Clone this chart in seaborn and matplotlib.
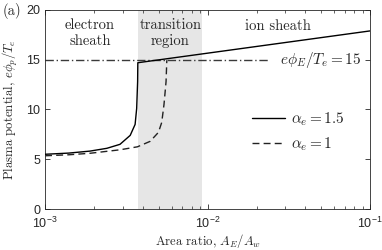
import numpy as np
import pandas as pd
import seaborn as sns
import matplotlib.pyplot as plt

# curve for alpha_e = 1.5 (solid)
x_solid = [1e-3, 1.4e-3, 1.89e-3, 2.4e-3, 2.89e-3, 3.34e-3, 3.58e-3, 3.66e-3, 3.71e-3, 3.72e-3, 0.1]
y_solid = [5.5, 5.62, 5.82, 6.1, 6.5, 7.4, 8.5, 10.1, 12.8, 14.7, 17.9]

# curve for alpha_e = 1 (dashed)
x_dash = [1e-3, 1.4e-3, 1.89e-3, 2.89e-3, 3.7e-3, 4.43e-3, 4.98e-3, 5.22e-3, 5.39e-3, 5.55e-3, 5.61e-3]
y_dash = [5.35, 5.45, 5.6, 5.95, 6.25, 6.8, 7.7, 8.7, 10.5, 12.8, 14.95]

transition = [3.72e-3, 9.3e-3]
phi_E = 15

sns.set_theme(style="ticks")
plt.rcParams['font.family'] = ['cmr10', 'DejaVu Serif']
plt.rcParams['mathtext.fontset'] = 'cm'
plt.rcParams['axes.unicode_minus'] = False

fig = plt.figure(figsize=(3.82, 2.5), dpi=100)
ax = fig.add_axes([0.118, 0.164, 0.851, 0.796])

ax.axvspan(transition[0], transition[1], color='#e6e6e6', lw=0, zorder=0)
ax.plot([1e-3, 2.43e-2], [phi_E, phi_E], color='#3a3a3a', lw=1.0,
        dashes=(6, 2, 1, 2), zorder=1)

sns.lineplot(x=x_solid, y=y_solid, ax=ax, color='black', lw=1.0,
             sort=False, estimator=None, label=r'$\alpha_e = 1.5$', zorder=3)
sns.lineplot(x=x_dash, y=y_dash, ax=ax, color='#222222', lw=1.0,
             sort=False, estimator=None, label=r'$\alpha_e = 1$', zorder=2)
ax.lines[-1].set_dashes((5, 3))

ax.set_xscale('log')
ax.set_xlim(1e-3, 1e-1)
ax.set_ylim(0, 20)
ax.set_yticks([0, 5, 10, 15, 20])

ax.tick_params(which='both', direction='in', top=True, right=True,
               colors='#262626', labelsize=9, labelfontfamily='Liberation Sans')
ax.tick_params(which='major', length=3.5, width=0.6)
ax.tick_params(which='minor', length=2, width=0.5)
ax.tick_params(axis='x', which='major', pad=5)
for s in ax.spines.values():
    s.set_color('#262626')
    s.set_linewidth(0.6)

ax.set_xlabel(r'Area ratio, $A_E/A_w$', fontsize=9.2)
ax.set_ylabel(r'Plasma potential, $e\phi_p/T_e$', fontsize=9.2)
ax.xaxis.set_label_coords(0.5, -0.118)
ax.yaxis.set_label_coords(-0.078, 0.5)

ax.text(1.89e-3, 17.7, 'electron\nsheath', ha='center', va='center',
        fontsize=10.5, linespacing=1.2)
ax.text(5.9e-3, 17.7, 'transition\nregion', ha='center', va='center',
        fontsize=10.5, linespacing=1.2)
ax.text(2.7e-2, 18.4, 'ion sheath', ha='center', va='center', fontsize=10.5)
ax.text(0.088, 14.95, r'$e\phi_E/T_e = 15$', ha='right', va='center', fontsize=11)

ax.legend(loc='center right', bbox_to_anchor=(0.965, 0.39), frameon=False,
          fontsize=11, handlelength=2.2, handletextpad=0.4, labelspacing=0.5)

fig.text(0.008, 0.955, '(a)', fontsize=10.5, va='center')

fig.savefig('out.png', dpi=100)
